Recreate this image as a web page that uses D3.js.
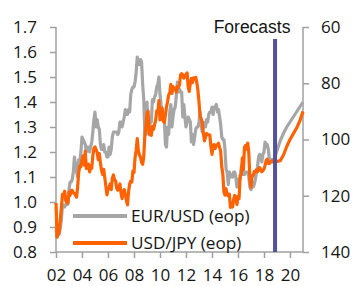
<!DOCTYPE html>
<html><head><meta charset="utf-8">
<script src="https://cdn.jsdelivr.net/npm/d3@7"></script>
<style>
body{margin:0;background:#fff}
svg{display:block}
text{font-family:"Open Sans",sans-serif;fill:#151515}
</style>
</head><body>
<svg id="c" width="352" height="286"></svg>
<script>
// Month-end history, first value = Dec 2001 (plotted at 2002.0), monthly steps
const histStart = 2002.0;
const eurusd = [0.89,
 0.86,0.87,0.87,0.90,0.93,0.99,0.98,0.98,0.99,0.99,0.99,1.05,
 1.08,1.08,1.09,1.12,1.18,1.15,1.12,1.10,1.17,1.16,1.20,1.26,
 1.25,1.24,1.23,1.20,1.22,1.22,1.20,1.22,1.24,1.28,1.33,1.36,
 1.30,1.33,1.30,1.29,1.23,1.21,1.21,1.23,1.20,1.20,1.18,1.18,
 1.22,1.19,1.21,1.26,1.28,1.28,1.28,1.28,1.27,1.28,1.32,1.32,
 1.30,1.32,1.34,1.37,1.35,1.35,1.37,1.36,1.43,1.45,1.46,1.46,
 1.48,1.52,1.58,1.56,1.55,1.57,1.56,1.47,1.41,1.27,1.27,1.40,
 1.28,1.27,1.33,1.32,1.41,1.40,1.42,1.43,1.46,1.47,1.50,1.43,
 1.39,1.36,1.35,1.33,1.23,1.22,1.30,1.27,1.36,1.39,1.30,1.34,
 1.37,1.38,1.42,1.48,1.44,1.45,1.44,1.44,1.34,1.39,1.34,1.30,
 1.32,1.34,1.33,1.32,1.24,1.27,1.23,1.26,1.29,1.30,1.30,1.32,
 1.36,1.31,1.28,1.32,1.30,1.30,1.33,1.32,1.35,1.36,1.36,1.38,
 1.35,1.38,1.38,1.39,1.36,1.37,1.34,1.31,1.26,1.25,1.25,1.21,
 1.13,1.12,1.07,1.12,1.10,1.11,1.10,1.12,1.12,1.10,1.06,1.09,
 1.08,1.09,1.14,1.15,1.11,1.11,1.12,1.12,1.12,1.10,1.06,1.05,
 1.08,1.06,1.07,1.09,1.12,1.14,1.18,1.19,1.18,1.16,1.19,1.20,
 1.24,1.22,1.23,1.21,1.17,1.17,1.17,1.16,1.17,1.18];
const usdjpy = [122.6,
 134.7,133.5,132.7,128.5,124.0,119.5,119.9,118.4,121.7,122.5,122.5,118.8,
 119.9,118.1,118.1,119.0,119.2,119.8,120.5,116.8,111.5,109.5,109.6,107.2,
 105.8,109.1,104.2,110.3,109.5,108.8,111.5,109.4,110.3,105.8,103.2,102.6,
 103.7,104.6,107.2,105.0,108.3,110.9,112.4,110.6,113.4,116.5,119.7,117.8,
 117.2,115.8,117.8,113.8,112.6,114.4,114.6,117.3,118.0,116.9,115.8,119.0,
 121.0,118.5,117.8,119.5,121.7,123.2,118.6,115.8,114.8,115.1,111.2,111.7,
 106.4,103.8,99.7,104.0,105.5,106.2,108.1,108.8,106.1,98.5,95.5,90.6,
 89.9,97.5,98.3,98.5,95.3,96.4,94.7,93.1,89.8,90.2,86.2,93.0,
 90.3,88.9,93.5,94.0,91.3,88.4,86.5,84.2,83.5,80.4,83.6,81.2,
 82.1,81.8,83.1,81.2,81.5,80.6,77.0,76.6,77.0,78.2,77.6,76.9,
 76.3,81.2,82.9,80.0,78.3,79.8,78.1,78.4,77.9,79.8,82.5,86.7,
 91.7,92.6,94.2,97.5,100.5,99.1,97.9,98.2,98.3,98.4,102.4,105.3,
 102.0,101.8,103.2,102.2,101.8,101.3,102.8,104.1,109.7,112.3,118.6,119.8,
 117.5,119.6,120.1,119.4,124.1,122.5,124.0,121.2,119.9,120.6,123.1,120.2,
 121.0,112.7,112.6,106.5,110.7,102.7,102.1,103.4,101.3,104.8,114.4,117.0,
 112.8,112.8,111.4,111.5,110.8,111.5,110.3,110.0,111.0,111.5,111.0,110.5,
 109.2,107.5,107.0,108.5,108.5,108.0,107.8,107.5,107.8,108.0];
// Forecast path (quarterly)
const fcDates  = [2019.0,2019.25,2019.5,2019.75,2020.0,2020.25,2020.5,2020.75,2021.0];
const eurusdFc = [1.205,1.245,1.275,1.30,1.32,1.34,1.36,1.38,1.40];
const usdjpyFc = [107.8,107.5,105.5,102.5,100.0,98.0,96.0,93.5,90.0];

const leftTicks  = [0.8,0.9,1.0,1.1,1.2,1.3,1.4,1.5,1.6,1.7];
const rightTicks = [60,80,100,120,140];
const xTicks     = [2002,2004,2006,2008,2010,2012,2014,2016,2018,2020];
const forecastDate = 2018.85;
const forecastLabel = "Forecasts";
const seriesNames = ["EUR/USD (eop)","USD/JPY (eop)"];
const colors = {eur:"#a6a6a6", jpy:"#ff6200", fc:"#525199", axis:"#a0a0a0"};

const svg = d3.select("#c");
const L = 56, R = 303, T = 27, B = 252;
const x  = d3.scaleLinear().domain([2002,2021]).range([L,R]);
const yL = d3.scaleLinear().domain([0.8,1.7]).range([B,T]);
const yR = d3.scaleLinear().domain([60,140]).range([T,B]);

const mkSeries = (hist, fcVals) =>
  hist.map((v,i)=>({d:histStart + i/12, v}))
      .concat(fcDates.map((d,i)=>({d, v:fcVals[i]})));
const eurData = mkSeries(eurusd, eurusdFc);
const jpyData = mkSeries(usdjpy, usdjpyFc);

// Axes
const gL = svg.append("g").attr("transform",`translate(${L},0)`)
  .call(d3.axisLeft(yL).tickValues(leftTicks).tickSize(6).tickPadding(13).tickFormat(d3.format(".1f")));
const gR = svg.append("g").attr("transform",`translate(${R},0)`)
  .call(d3.axisRight(yR).tickValues(rightTicks).tickSize(6).tickPadding(12).tickFormat(d=>d));
const gB = svg.append("g").attr("transform",`translate(0,${B})`)
  .call(d3.axisBottom(x).tickValues(xTicks).tickSize(6).tickPadding(11).tickFormat(d=>String(d%100).padStart(2,"0")));
[gL,gR,gB].forEach(g=>{
  g.select(".domain").attr("stroke",colors.axis).attr("stroke-width",1.5);
  g.selectAll(".tick line").attr("stroke",colors.axis).attr("stroke-width",1.5);
  g.selectAll(".tick text").attr("fill","#151515").style("font-size","17px").style("font-family","'Open Sans',sans-serif");
});
gB.select(".domain").attr("d",`M${L},0H${R}`);
gL.select(".domain").attr("d",`M0,${T}V${B}`);
gR.select(".domain").attr("d",`M0,${T}V${B}`);

// Lines
const line = (ys) => d3.line().x(d=>x(d.d)).y(d=>ys(d.v)).curve(d3.curveLinear);
svg.append("path").datum(eurData).attr("d",line(yL))
  .attr("fill","none").attr("stroke",colors.eur).attr("stroke-width",3.2).attr("stroke-linejoin","round");
svg.append("path").datum(jpyData).attr("d",line(yR))
  .attr("fill","none").attr("stroke",colors.jpy).attr("stroke-width",3.2).attr("stroke-linejoin","round");

// Forecast marker
svg.append("line").attr("x1",x(forecastDate)).attr("x2",x(forecastDate))
  .attr("y1",39).attr("y2",B).attr("stroke",colors.fc).attr("stroke-width",4);
svg.append("text").attr("x",x(forecastDate)-23).attr("y",33).attr("text-anchor","middle")
  .style("font-family","'Liberation Sans',Arial,sans-serif").style("font-size","17.5px").text(forecastLabel);

// Legend
const leg = [{name:seriesNames[0],c:colors.eur,y:216},{name:seriesNames[1],c:colors.jpy,y:243}];
leg.forEach(l=>{
  svg.append("line").attr("x1",73).attr("x2",127).attr("y1",l.y).attr("y2",l.y)
    .attr("stroke",l.c).attr("stroke-width",4);
  svg.append("text").attr("x",131).attr("y",l.y).attr("dy","0.35em")
    .style("font-size","17.2px").text(l.name);
});
</script>
</body></html>
